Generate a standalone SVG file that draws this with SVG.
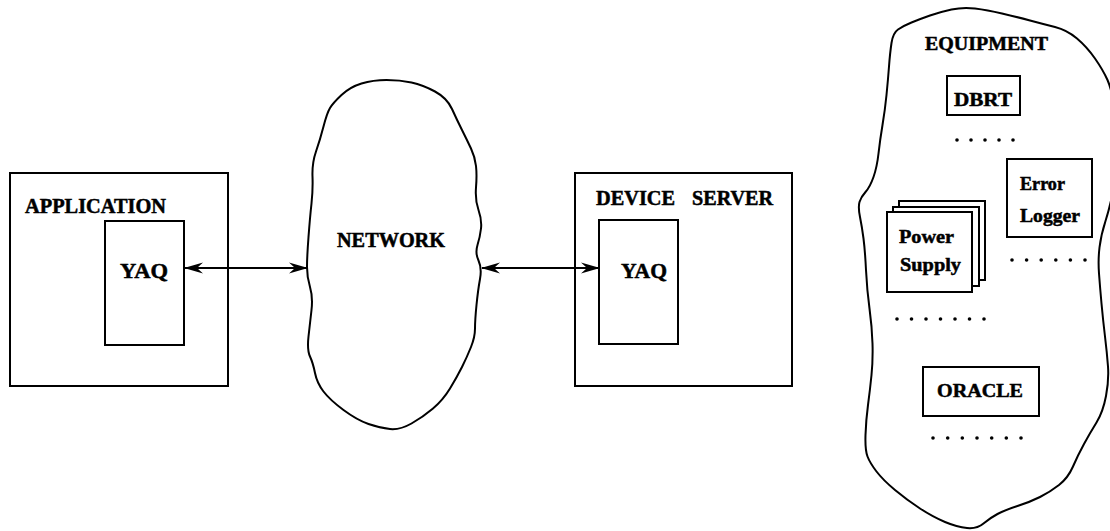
<svg xmlns="http://www.w3.org/2000/svg" width="1110" height="531" viewBox="0 0 1110 531">
  <style>
    .box { fill: #fff; stroke: #000; stroke-width: 2; }
    .blob { fill: #fff; stroke: #000; stroke-width: 2; stroke-linejoin: round; }
    .link { fill: none; stroke: #000; stroke-width: 2.2; marker-start: url(#head); marker-end: url(#head); }
    .lbl { font-family: "Liberation Serif", "Times New Roman", serif; font-weight: bold; fill: #000; stroke: #000; stroke-width: 0.5; }
    .big { font-size: 20px; }
    .mid { font-size: 21px; }
    .sm { font-size: 19px; }
    .dot { fill: #000; }
  </style>
  <defs>
    <marker id="head" viewBox="0 0 19 12" refX="18" refY="6" markerWidth="19" markerHeight="12" markerUnits="userSpaceOnUse" orient="auto-start-reverse">
      <path d="M0,0.5 L19,6 L0,11.5 L6,6 Z" fill="#000"/>
    </marker>
  </defs>
  <rect width="1110" height="531" fill="#fff"/>

  <!-- client side -->
  <g id="application">
    <rect class="box" x="10" y="173" width="218" height="213"/>
    <text class="lbl big" x="25" y="213" textLength="141" lengthAdjust="spacingAndGlyphs">APPLICATION</text>
  </g>
  <g id="app-yaq">
    <rect class="box" x="105" y="221" width="79" height="124"/>
    <text class="lbl mid" x="120" y="278" textLength="48" lengthAdjust="spacingAndGlyphs">YAQ</text>
  </g>

  <!-- network cloud -->
  <g id="network">
    <path class="blob" d="M341.5 95 Q350 87 361.5 83.5 Q373 80 386.5 80 Q400 80 411.5 82.5 Q423 85 435 91.5 Q447 98 452 109 Q457 120 462 130 Q467 140 471 148.5 Q475 157 476 166 Q477 175 476 187.5 Q475 200 478.5 210 Q482 220 481 228.5 Q480 237 477.5 245 Q475 253 478.5 260.5 Q482 268 480 279 Q478 290 476.5 305 Q475 320 475 328.5 Q475 337 471 347 Q467 357 462 367 Q457 377 450 388.5 Q443 400 433 408.5 Q423 417 411.5 423.5 Q400 430 390 429 Q380 428 368.5 424 Q357 420 343.5 410 Q330 400 323.5 391.5 Q317 383 315 373 Q313 363 310 356.5 Q307 350 308.5 336.5 Q310 323 311.5 310 Q313 297 310 287 Q307 277 307 267 Q307 257 308.5 237 Q310 217 311.5 203.5 Q313 190 312.5 176.5 Q312 163 316 151.5 Q320 140 323.5 126.5 Q327 113 330 108 Q333 103 341.5 95 Z"/>
    <text class="lbl big" x="337" y="247" textLength="108" lengthAdjust="spacingAndGlyphs">NETWORK</text>
  </g>

  <!-- server side -->
  <g id="device-server">
    <rect class="box" x="575" y="173" width="217" height="213"/>
    <text class="lbl big" y="205"><tspan x="596" textLength="79" lengthAdjust="spacingAndGlyphs">DEVICE</tspan> <tspan x="692" textLength="81" lengthAdjust="spacingAndGlyphs">SERVER</tspan></text>
  </g>
  <g id="server-yaq">
    <rect class="box" x="599" y="220" width="79" height="124"/>
    <text class="lbl mid" x="621" y="278" textLength="46" lengthAdjust="spacingAndGlyphs">YAQ</text>
  </g>

  <!-- equipment region -->
  <g id="equipment">
    <path class="blob" d="M891.5 43 Q893 33 898 29.5 Q903 26 911.5 22.5 Q920 19 930 15.5 Q940 12 951.5 9.5 Q963 7 975 8.5 Q987 10 1002 13.5 Q1017 17 1030 20.5 Q1043 24 1055 27 Q1067 30 1077 38.5 Q1087 47 1095 58.5 Q1103 70 1107.5 80 Q1112 90 1114.5 110 Q1117 130 1116.5 152.5 Q1116 175 1113 191 Q1110 207 1105.5 221 Q1101 235 1099.5 247.5 Q1098 260 1099 273.5 Q1100 287 1101.5 303.5 Q1103 320 1105 336.5 Q1107 353 1108 366.5 Q1109 380 1106 396 Q1103 412 1096.5 422.5 Q1090 433 1084 444 Q1078 455 1073 466.5 Q1068 478 1059 485 Q1050 492 1040 497 Q1030 502 1017.5 506 Q1005 510 997.5 514 Q990 518 983.5 523.5 Q977 529 967 528 Q957 527 945 522 Q933 517 920 508.5 Q907 500 895 490 Q883 480 876.5 471.5 Q870 463 867.5 456.5 Q865 450 865.5 435 Q866 420 868 405 Q870 390 871.5 375 Q873 360 872.5 343.5 Q872 327 869.5 308.5 Q867 290 866 270 Q865 250 863.5 238.5 Q862 227 860 217 Q858 207 859.5 202 Q861 197 865.5 192 Q870 187 873.5 177 Q877 167 878.5 153.5 Q880 140 882.5 125 Q885 110 886.5 95 Q888 80 889 66.5 Q890 53 891.5 43 Z"/>
    <text class="lbl sm" x="925" y="50" textLength="123" lengthAdjust="spacingAndGlyphs">EQUIPMENT</text>
  </g>
  <g id="dbrt">
    <rect class="box" x="947" y="76" width="73" height="39"/>
    <text class="lbl sm" x="954" y="106" textLength="58" lengthAdjust="spacingAndGlyphs">DBRT</text>
  </g>
  <g id="error-logger">
    <rect class="box" x="1007" y="159" width="85" height="78"/>
    <text class="lbl sm"><tspan x="1020" y="190" textLength="45" lengthAdjust="spacingAndGlyphs">Error</tspan><tspan x="1020" y="222" textLength="60" lengthAdjust="spacingAndGlyphs">Logger</tspan></text>
  </g>
  <g id="power-supply">
    <rect class="box" x="899" y="201" width="86" height="79"/>
    <rect class="box" x="893" y="207" width="86" height="79"/>
    <rect class="box" x="887" y="212" width="85" height="80"/>
    <text class="lbl sm"><tspan x="899" y="243" textLength="55" lengthAdjust="spacingAndGlyphs">Power</tspan><tspan x="900" y="271" textLength="61" lengthAdjust="spacingAndGlyphs">Supply</tspan></text>
  </g>
  <g id="oracle">
    <rect class="box" x="923" y="367" width="116" height="49"/>
    <text class="lbl sm" x="937" y="397" textLength="86" lengthAdjust="spacingAndGlyphs">ORACLE</text>
  </g>

  <!-- ellipsis rows between the equipment items -->
  <g id="ellipses">
    <g>
      <circle class="dot" cx="957" cy="140" r="1.8"/><circle class="dot" cx="971" cy="140" r="1.8"/><circle class="dot" cx="985" cy="140" r="1.8"/><circle class="dot" cx="999" cy="140" r="1.8"/><circle class="dot" cx="1013" cy="140" r="1.8"/>
    </g>
    <g>
      <circle class="dot" cx="1012" cy="260" r="1.8"/><circle class="dot" cx="1026.6" cy="260" r="1.8"/><circle class="dot" cx="1041.2" cy="260" r="1.8"/><circle class="dot" cx="1055.8" cy="260" r="1.8"/><circle class="dot" cx="1070.4" cy="260" r="1.8"/><circle class="dot" cx="1085" cy="260" r="1.8"/>
    </g>
    <g>
      <circle class="dot" cx="897" cy="319" r="1.8"/><circle class="dot" cx="911.5" cy="319" r="1.8"/><circle class="dot" cx="926" cy="319" r="1.8"/><circle class="dot" cx="940.5" cy="319" r="1.8"/><circle class="dot" cx="955" cy="319" r="1.8"/><circle class="dot" cx="969.5" cy="319" r="1.8"/><circle class="dot" cx="984" cy="319" r="1.8"/>
    </g>
    <g>
      <circle class="dot" cx="933" cy="438" r="1.8"/><circle class="dot" cx="947.7" cy="438" r="1.8"/><circle class="dot" cx="962.3" cy="438" r="1.8"/><circle class="dot" cx="977" cy="438" r="1.8"/><circle class="dot" cx="991.7" cy="438" r="1.8"/><circle class="dot" cx="1006.3" cy="438" r="1.8"/><circle class="dot" cx="1021" cy="438" r="1.8"/>
    </g>
  </g>

  <!-- two-way links -->
  <g id="connectors">
    <line class="link" x1="185" y1="268" x2="307" y2="268"/>
    <line class="link" x1="482" y1="268" x2="599" y2="268"/>
  </g>
</svg>
